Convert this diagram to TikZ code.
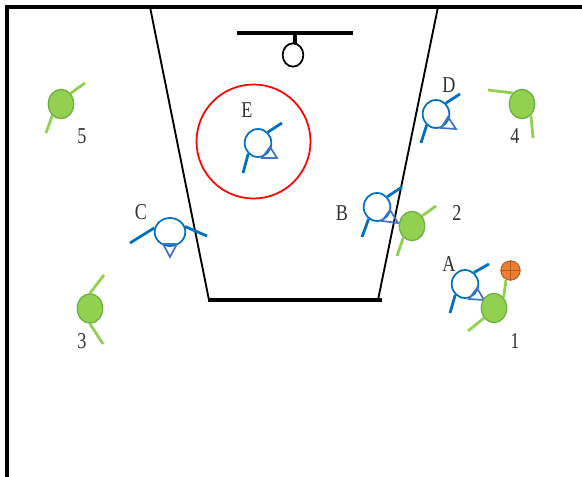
\documentclass[tikz,border=0pt]{standalone}
\usepackage{fontspec}
\setmainfont[FakeStretch=0.8]{Liberation Serif}
\definecolor{defblue}{RGB}{0, 112, 192}
\definecolor{guardblue}{RGB}{68, 114, 196}
\definecolor{offgreen}{RGB}{146, 208, 80}
\definecolor{offedge}{RGB}{112, 173, 71}
\definecolor{ballorange}{RGB}{237, 125, 49}
\definecolor{balledge}{RGB}{174, 90, 33}
\usetikzlibrary{shapes.geometric}

\begin{document}
\begin{tikzpicture}[
  x=0.75pt, y=-0.75pt,
  defender/.style={draw=defblue, fill=white, ellipse, line width=1.3pt, inner sep=0pt, minimum width=20pt, minimum height=21pt},
  attacker/.style={draw=offedge, fill=offgreen, ellipse, line width=1pt, inner sep=0pt, minimum width=19pt, minimum height=22pt},
  defarm/.style={draw=defblue, line width=2.1pt},
  offarm/.style={draw=offgreen, line width=2.1pt},
  facing/.style={draw=guardblue, line width=1.3pt},
  tag/.style={inner sep=0pt, text=black!80, font=\fontsize{17}{17}\selectfont}
]
  \useasboundingbox (0,0) rectangle (582,477);

  % Court
  \coordinate (cornerB) at (7,477);
  \coordinate (cornerL) at (7,7);
  \coordinate (cornerR) at (582,7);
  \draw[line width=3pt, line join=miter] (cornerB) -- (cornerL) -- (cornerR);

  % Key
  \coordinate (keyTL) at (150,7);
  \coordinate (keyTR) at (438,7);
  \coordinate (keyBL) at (209,300);
  \coordinate (keyBR) at (378,300);
  \coordinate (baseL) at (208,300);
  \coordinate (baseR) at (382,300);
  \draw[line width=1.4pt] (keyTL) -- (keyBL);
  \draw[line width=1.4pt] (keyTR) -- (keyBR);
  \draw[line width=2.6pt] (baseL) -- (baseR);

  % Backboard and hoop
  \coordinate (boardL) at (237,33);
  \coordinate (boardR) at (353,33);
  \coordinate (boardM) at (295,33);
  \node[draw, ellipse, line width=1.3pt, inner sep=0pt, minimum width=15.5pt, minimum height=17.5pt] (hoop) at (293,55) {};
  \coordinate (stemE) at (295,44);
  \draw[line width=2.6pt] (boardL) -- (boardR);
  \draw[line width=2.4pt] (boardM) -- (stemE);

  % Red ring round E
  \node[draw=red, circle, line width=1.3pt, inner sep=0pt, minimum size=85.5pt] (ring) at (253.5,141.5) {};

  % Defender A
  \node[defender] (defA) at (465,284) {};
  \coordinate (defAu) at (489,264);
  \coordinate (defAd) at (450,313);
  \draw[defarm] (defA.52) -- (defAu);
  \draw[defarm] (defA.228) -- (defAd);
  \draw[facing] (469,299) -- (484,300) -- (477,288) -- cycle;
  \node[tag] (tagA) at (449,264) {A};

  % Defender B
  \node[defender] (defB) at (377,207) {};
  \coordinate (defBu) at (402,187);
  \coordinate (defBd) at (362,237);
  \draw[defarm] (defB.45) -- (defBu);
  \draw[defarm] (defB.235) -- (defBd);
  \draw[facing] (382,221) -- (398,223) -- (390,210) -- cycle;
  \node[tag] (tagB) at (342,213) {B};

  % Defender C
  \node[defender, minimum width=23pt] (defC) at (170,232) {};
  \coordinate (defCl) at (130,243);
  \coordinate (defCr) at (207,236);
  \draw[defarm] (defC.165) -- (defCl);
  \draw[defarm] (defC.20) -- (defCr);
  \draw[facing] (163,244) -- (177,244) -- (170,257) -- cycle;
  \node[tag] (tagC) at (141,212) {C};

  % Defender D
  \node[defender] (defD) at (436,114) {};
  \coordinate (defDu) at (460,94);
  \coordinate (defDd) at (421,143);
  \draw[defarm] (defD.48) -- (defDu);
  \draw[defarm] (defD.230) -- (defDd);
  \draw[facing] (441,128) -- (456,129) -- (448,117) -- cycle;
  \node[tag] (tagD) at (449,85) {D};

  % Defender E
  \node[defender] (defE) at (258,143) {};
  \coordinate (defEu) at (282,123);
  \coordinate (defEd) at (243,173);
  \draw[defarm] (defE.48) -- (defEu);
  \draw[defarm] (defE.228) -- (defEd);
  \draw[facing] (262,158) -- (277,158) -- (270,147) -- cycle;
  \node[tag] (tagE) at (247,110) {E};

  % Attacker 1 with the ball
  \node[draw=balledge, fill=ballorange, circle, line width=0.7pt, inner sep=0pt, minimum size=14.5pt] (ball) at (510.5,270.5) {};
  \draw[balledge, line width=0.7pt] (ball.north) -- (ball.south);
  \draw[balledge, line width=0.7pt] (ball.west) -- (ball.east);
  \coordinate (offAu) at (506,280);
  \coordinate (offAd) at (468,331);
  \node[attacker] (offA) at (494,308) {};
  \draw[offarm] (offA.48) -- (offAu);
  \draw[offarm] (offA.225) -- (offAd);
  \node[tag] (tagO) at (515,341) {1};

  % Attacker 2
  \node[attacker] (offB) at (412,226) {};
  \coordinate (offBu) at (436,206);
  \coordinate (offBd) at (397,256);
  \draw[offarm] (offB.45) -- (offBu);
  \draw[offarm] (offB.233) -- (offBd);
  \node[tag] (tagT) at (457,213) {2};

  % Attacker 3
  \node[attacker] (offC) at (90,308.5) {};
  \coordinate (offCu) at (104,275);
  \coordinate (offCd) at (103,344);
  \draw[offarm] (offC.north) -- (offCu);
  \draw[offarm] (offC.south) -- (offCd);
  \node[tag] (tagH) at (82,341) {3};

  % Attacker 4
  \node[attacker] (offD) at (522,104) {};
  \coordinate (offDl) at (488,90);
  \coordinate (offDd) at (533,138);
  \draw[offarm] (offD.130) -- (offDl);
  \draw[offarm] (offD.308) -- (offDd);
  \node[tag] (tagF) at (515,136) {4};

  % Attacker 5
  \node[attacker] (offE) at (61,104) {};
  \coordinate (offEu) at (85,83);
  \coordinate (offEd) at (46,133);
  \draw[offarm] (offE.48) -- (offEu);
  \draw[offarm] (offE.233) -- (offEd);
  \node[tag] (tagV) at (82,136) {5};
\end{tikzpicture}
\end{document}
